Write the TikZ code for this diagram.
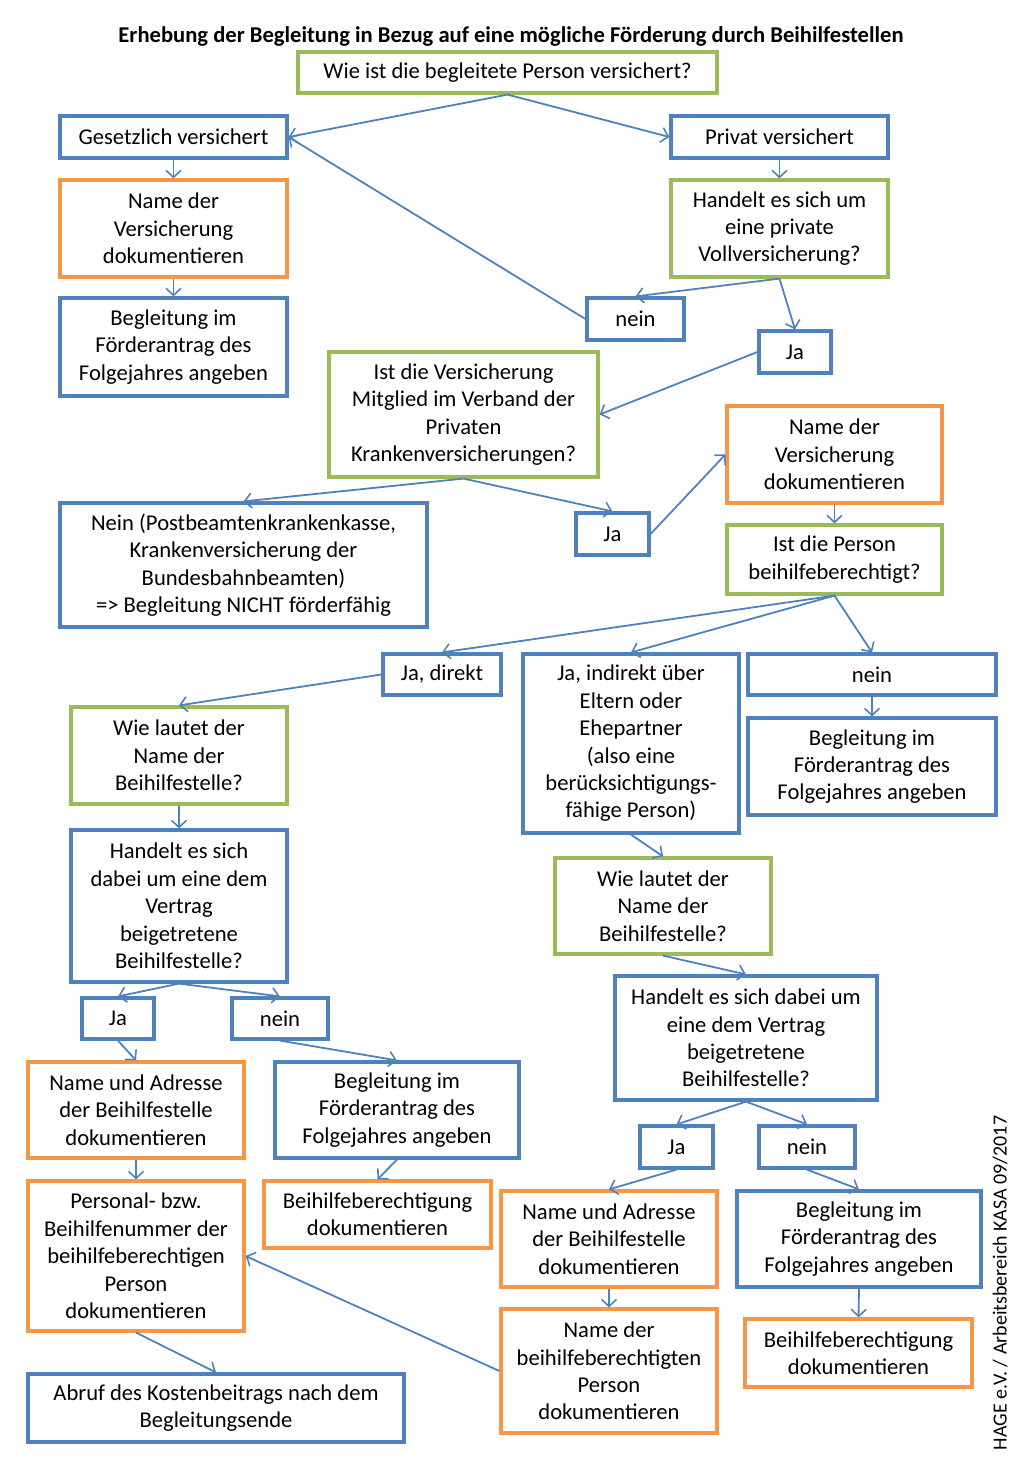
\documentclass[tikz,border=0pt]{standalone}
\usepackage{fontspec}
\setmainfont{Carlito}
\usetikzlibrary{arrows.meta}
\definecolor{cblue}{HTML}{4F81BD}
\definecolor{cgreen}{HTML}{9BBB59}
\definecolor{corange}{HTML}{F79646}
\newcommand\bx[7]{\node[#2, minimum width={(#5-#3)*1pt}, minimum height={(#6-#4)*1pt}] (#1) at ({(#3+#5)/2},{(#4+#6)/2}) {#7};}
\begin{document}
\begin{tikzpicture}[x=1pt,y=-1pt,
  every node/.style={font=\fontsize{22.6}{27.4}\selectfont, align=center, inner sep=0pt, text=black},
  box/.style={draw, line width=3.2pt, fill=white},
  bb/.style={box, draw=cblue},
  gb/.style={box, draw=cgreen},
  ob/.style={box, draw=corange},
  con/.style={draw=cblue, line width=1.8pt, -{Straight Barb[length=7pt,width=15pt,line width=1.6pt]}}]
\useasboundingbox (0,0) rectangle (1024,1479);
\node (title) at (511,36) {\bfseries Erhebung der Begleitung in Bezug auf eine mögliche Förderung durch Beihilfestellen};
\bx{q1}{gb}{298}{52}{717}{93}{Wie ist die begleitete Person versichert?}
\bx{gv}{bb}{60}{116}{287}{158}{Gesetzlich versichert}
\bx{pv}{bb}{671}{116}{888}{158}{Privat versichert}
\bx{nv1}{ob}{60}{180}{287}{277}{Name der\\Versicherung\\dokumentieren}
\bx{bf1}{bb}{60}{298}{287}{396}{Begleitung im\\Förderantrag des\\Folgejahres angeben}
\bx{q2}{gb}{671}{180}{888}{277}{Handelt es sich um\\eine private\\Vollversicherung?}
\bx{nein1}{bb}{587}{298}{684}{340}{nein}
\bx{ja1}{bb}{759}{331}{831}{373}{Ja}
\bx{q3}{gb}{329}{352}{598}{477}{Ist die Versicherung\\Mitglied im Verband der\\Privaten\\Krankenversicherungen?}
\bx{nein2}{bb}{60}{503}{427}{627}{Nein (Postbeamtenkrankenkasse,\\Krankenversicherung der\\Bundesbahnbeamten)\\=> Begleitung NICHT förderfähig}
\bx{ja2}{bb}{576}{513}{649}{555}{Ja}
\bx{nv2}{ob}{727}{406}{942}{503}{Name der\\Versicherung\\dokumentieren}
\bx{q4}{gb}{727}{525}{942}{594}{Ist die Person\\beihilfeberechtigt?}
\bx{jad}{bb}{383}{654}{501}{695}{Ja, direkt}
\bx{jai}{bb}{523}{654}{739}{833}{Ja, indirekt über\\Eltern oder\\Ehepartner\\(also eine\\berücksichtigungs-\\fähige Person)}
\bx{nein3}{bb}{748}{654}{996}{695}{nein}
\bx{bf2}{bb}{748}{718}{996}{815}{Begleitung im\\Förderantrag des\\Folgejahres angeben}
\bx{q5}{gb}{71}{707}{287}{804}{Wie lautet der\\Name der\\Beihilfestelle?}
\bx{q6}{bb}{71}{830}{287}{982}{Handelt es sich\\dabei um eine dem\\Vertrag\\beigetretene\\Beihilfestelle?}
\bx{ja3}{bb}{82}{998}{154}{1039}{Ja}
\bx{nein4}{bb}{232}{998}{328}{1039}{nein}
\bx{na1}{ob}{28}{1062}{244}{1158}{Name und Adresse\\der Beihilfestelle\\dokumentieren}
\bx{bf3}{bb}{275}{1062}{519}{1158}{Begleitung im\\Förderantrag des\\Folgejahres angeben}
\bx{bb1}{ob}{264}{1181}{491}{1248}{Beihilfeberechtigung\\dokumentieren}
\bx{pn}{ob}{28}{1181}{244}{1331}{Personal- bzw.\\Beihilfenummer der\\beihilfeberechtigen\\Person\\dokumentieren}
\bx{ab}{bb}{28}{1374}{404}{1442}{Abruf des Kostenbeitrags nach dem\\Begleitungsende}
\bx{q7}{gb}{555}{858}{771}{954}{Wie lautet der\\Name der\\Beihilfestelle?}
\bx{q8}{bb}{615}{976}{877}{1100}{Handelt es sich dabei um\\eine dem Vertrag\\beigetretene\\Beihilfestelle?}
\bx{ja4}{bb}{640}{1126}{713}{1168}{Ja}
\bx{nein5}{bb}{759}{1126}{855}{1168}{nein}
\bx{na2}{ob}{501}{1191}{717}{1287}{Name und Adresse\\der Beihilfestelle\\dokumentieren}
\bx{bf4}{bb}{737}{1191}{981}{1287}{Begleitung im\\Förderantrag des\\Folgejahres angeben}
\bx{nbp}{ob}{501}{1309}{717}{1433}{Name der\\beihilfeberechtigten\\Person\\dokumentieren}
\bx{bb2}{ob}{745}{1319}{972}{1387}{Beihilfeberechtigung\\dokumentieren}
\node[rotate=90, font=\fontsize{20}{24}\selectfont] (foot) at (1000,1283) {HAGE e.V. / Arbeitsbereich KASA 09/2017};
% connectors
\draw[con] (q1.south) -- (gv.east);
\draw[con] (q1.south) -- (pv.west);
\draw[con] (gv.south) -- (nv1.north);
\draw[con] (nv1.south) -- (bf1.north);
\draw[con] (pv.south) -- (q2.north);
\draw[con] (q2.south) -- (nein1.north);
\draw[con] (q2.south) -- (ja1.north);
\draw[con] (nein1.west) -- (gv.east);
\draw[con] (ja1.west) -- (q3.east);
\draw[con] (q3.south) -- (nein2.north);
\draw[con] (q3.south) -- (ja2.north);
\draw[con] (ja2.east) -- (nv2.west);
\draw[con] (nv2.south) -- (q4.north);
\draw[con] (q4.south) -- (jad.north);
\draw[con] (q4.south) -- (jai.north);
\draw[con] (q4.south) -- (nein3.north);
\draw[con] (nein3.south) -- (bf2.north);
\draw[con] (jad.west) -- (q5.north);
\draw[con] (q5.south) -- (q6.north);
\draw[con] (q6.south) -- (ja3.north);
\draw[con] (q6.south) -- (nein4.north);
\draw[con] (ja3.south) -- (na1.north);
\draw[con] (nein4.south) -- (bf3.north);
\draw[con] (na1.south) -- (pn.north);
\draw[con] (bf3.south) -- (bb1.north);
\draw[con] (pn.south) -- (ab.north);
\draw[con] (nbp.west) -- (pn.east);
\draw[con] (jai.south) -- (q7.north);
\draw[con] (q7.south) -- (q8.north);
\draw[con] (q8.south) -- (ja4.north);
\draw[con] (q8.south) -- (nein5.north);
\draw[con] (ja4.south) -- (na2.north);
\draw[con] (nein5.south) -- (bf4.north);
\draw[con] (na2.south) -- (nbp.north);
\draw[con] (bf4.south) -- (bb2.north);
\end{tikzpicture}
\end{document}
